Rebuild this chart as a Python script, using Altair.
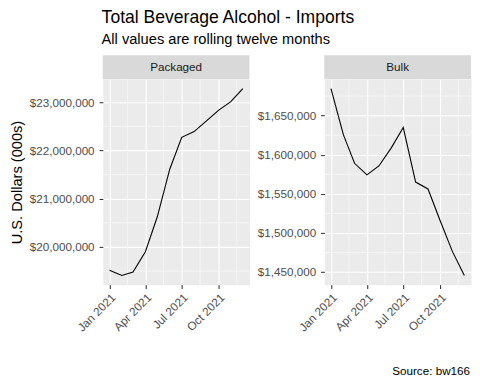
import altair as alt
import pandas as pd

# ---- data ----
months = ["2021-01-01", "2021-02-01", "2021-03-01", "2021-04-01", "2021-05-01", "2021-06-01",
          "2021-07-01", "2021-08-01", "2021-09-01", "2021-10-01", "2021-11-01", "2021-12-01"]
packaged = [19520000, 19410000, 19480000, 19900000, 20630000, 21610000,
            22270000, 22390000, 22610000, 22830000, 23010000, 23280000]
bulk = [1684600, 1625600, 1589000, 1574200, 1585600, 1608800,
        1634800, 1565000, 1556200, 1516200, 1476300, 1445500]
panel_names = ["Packaged", "Bulk"]

title_text = "Total Beverage Alcohol - Imports"
subtitle_text = "All values are rolling twelve months"
y_title = "U.S. Dollars (000s)"
caption_text = "Source: bw166"

x_ticks = ["2021-01-01", "2021-04-01", "2021-07-01", "2021-10-01"]
x_minor = ["2021-02-15", "2021-05-16", "2021-08-16", "2021-11-16"]
packaged_ticks = [20000000, 21000000, 22000000, 23000000]
packaged_minor = [19500000, 20500000, 21500000, 22500000]
bulk_ticks = [1450000, 1500000, 1550000, 1600000, 1650000]
bulk_minor = [1475000, 1525000, 1575000, 1625000, 1675000]

FONT = "Liberation Sans"
W, H = 147, 206
STRIP = 24


def dt(ts):
    ts = pd.Timestamp(ts)
    return alt.DateTime(year=ts.year, month=ts.month, date=ts.day,
                        hours=ts.hour, minutes=ts.minute)


def panel(name, values, yticks, yminor, first):
    df = pd.DataFrame({"month": pd.to_datetime(months), "value": values})
    vmin, vmax = min(values), max(values)
    pad = 0.05 * (vmax - vmin)
    yscale = alt.Scale(domain=[vmin - pad, vmax + pad], nice=False, zero=False)
    t0, t1 = df["month"].min(), df["month"].max()
    tpad = (t1 - t0) * 0.05
    xscale = alt.Scale(domain=[dt(t0 - tpad), dt(t1 + tpad)], nice=False)

    xaxis = alt.Axis(values=[dt(v) for v in x_ticks], format="%b %Y",
                     labelAngle=-45, labelAlign="right", labelBaseline="top",
                     labelOverlap=False, labelPadding=3, title=None)
    yaxis = alt.Axis(values=yticks, format="$,.0f", labelPadding=5,
                     title=y_title if first else None)

    xm = alt.Chart(pd.DataFrame({"d": pd.to_datetime(x_minor)})).mark_rule(
        color="white", strokeWidth=0.55).encode(
        x=alt.X("d:T", scale=xscale, axis=xaxis))
    ym = alt.Chart(pd.DataFrame({"v": yminor})).mark_rule(
        color="white", strokeWidth=0.55).encode(
        y=alt.Y("v:Q", scale=yscale, axis=yaxis))
    line = alt.Chart(df).mark_line(color="black", strokeWidth=1.1).encode(
        x=alt.X("month:T", scale=xscale, axis=xaxis),
        y=alt.Y("value:Q", scale=yscale, axis=yaxis))
    strip = alt.Chart(pd.DataFrame({"label": [name]})).mark_rect(
        color="#D9D9D9").encode(
        x=alt.value(0), x2=alt.value(W), y=alt.value(-STRIP), y2=alt.value(0))
    strip_text = alt.Chart(pd.DataFrame({"label": [name]})).mark_text(
        font=FONT, fontSize=11.7, color="#1A1A1A", baseline="middle").encode(
        x=alt.value(W / 2), y=alt.value(-STRIP / 2), text="label:N")
    layers = [xm, ym, line, strip, strip_text]
    if not first:
        cap = alt.Chart(pd.DataFrame({"c": [caption_text]})).mark_text(
            font=FONT, fontSize=11.7, color="black", align="right",
            baseline="alphabetic").encode(
            x=alt.value(W - 1), y=alt.value(H + 90), text="c:N")
        layers.append(cap)
    return alt.layer(*layers).properties(width=W, height=H)


left = panel(panel_names[0], packaged, packaged_ticks, packaged_minor, True)
right = panel(panel_names[1], bulk, bulk_ticks, bulk_minor, False)

chart = alt.hconcat(left, right, spacing=6).properties(
    title=alt.TitleParams(
        text=title_text, subtitle=subtitle_text, anchor="start",
        font=FONT, subtitleFont=FONT, fontSize=17.6, subtitleFontSize=14.67,
        fontWeight="normal", color="black", subtitleColor="black",
        offset=8.5, subtitlePadding=5.5, dx=93),
    padding={"left": 0, "top": 0, "right": 0, "bottom": 0},
    background="white",
).configure_view(
    fill="#EBEBEB", stroke="transparent"
).configure_axis(
    labelFont=FONT, labelFontSize=11.7, labelColor="#4D4D4D",
    titleFont=FONT, titleFontSize=14.67, titleColor="black", titleFontWeight="normal",
    tickColor="#333333", tickSize=3.7, tickWidth=1.07, domain=False,
    gridColor="white", gridWidth=1.07, titlePadding=5,
)

chart.save("out.html", embed_options={"renderer": "svg", "actions": False})
